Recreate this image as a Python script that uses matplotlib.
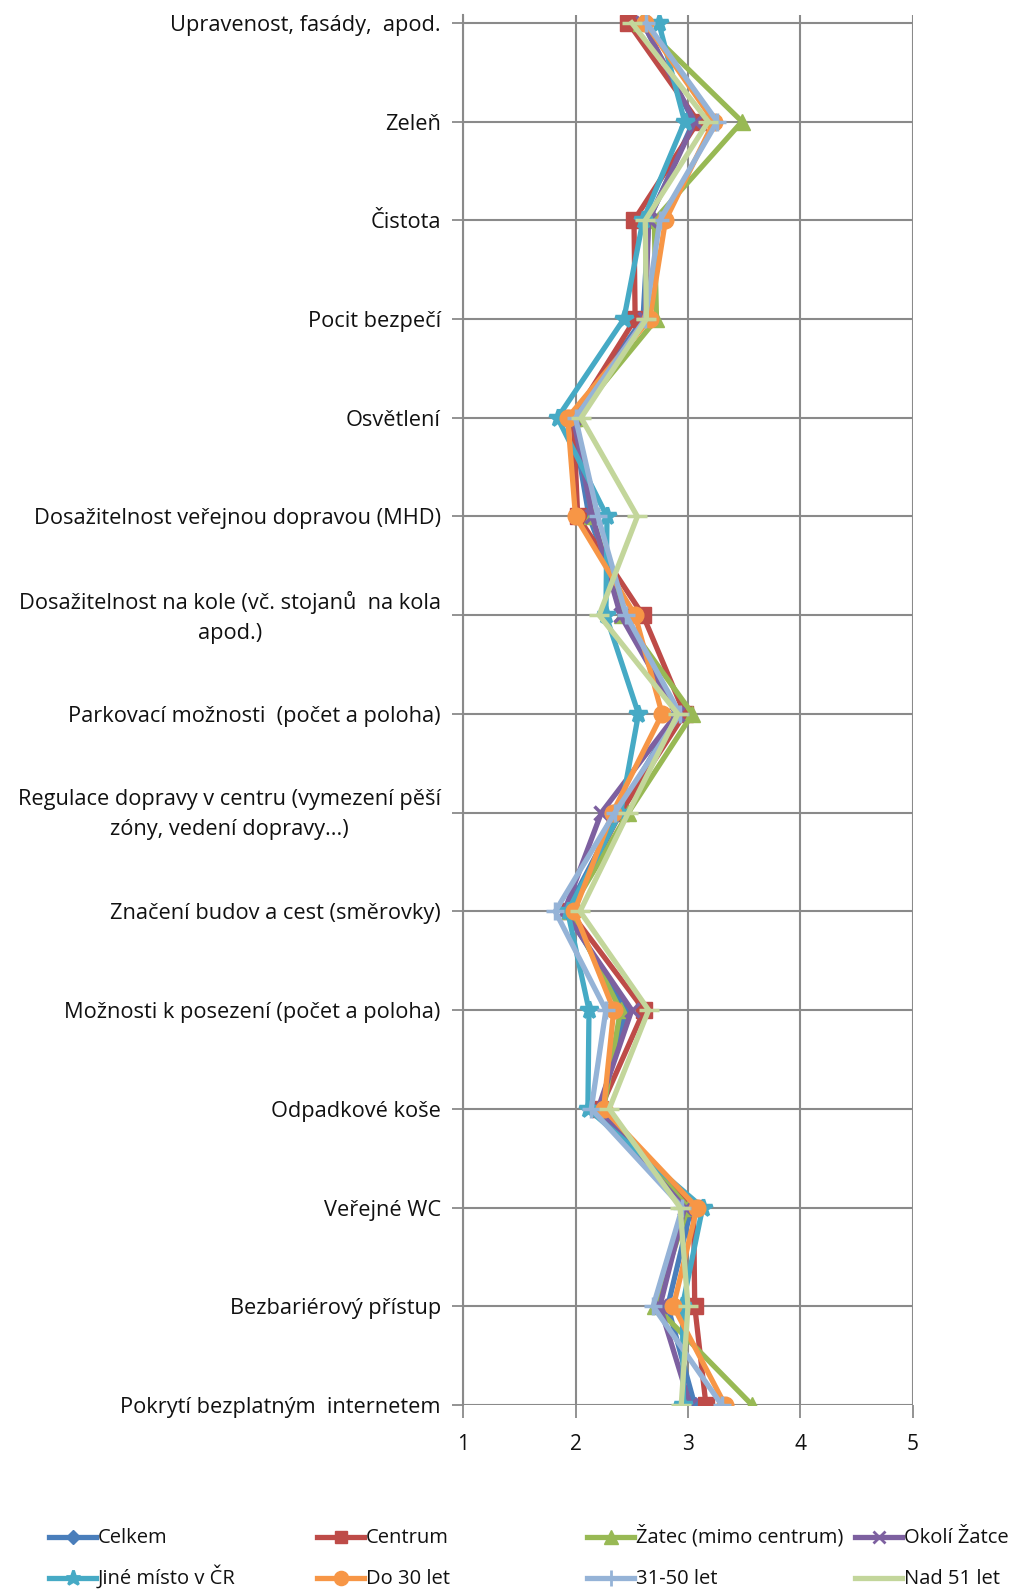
import matplotlib
matplotlib.use("Agg")
import matplotlib.pyplot as plt
import matplotlib.transforms as mtransforms
from matplotlib.lines import Line2D

plt.rcParams['font.family'] = ['Open Sans', 'DejaVu Sans']

categories = [
    "Upravenost, fasády,  apod.",
    "Zeleň",
    "Čistota",
    "Pocit bezpečí",
    "Osvětlení",
    "Dosažitelnost veřejnou dopravou (MHD)",
    "Dosažitelnost na kole (vč. stojanů  na kola\napod.)",
    "Parkovací možnosti  (počet a poloha)",
    "Regulace dopravy v centru (vymezení pěší\nzóny, vedení dopravy...)",
    "Značení budov a cest (směrovky)",
    "Možnosti k posezení (počet a poloha)",
    "Odpadkové koše",
    "Veřejné WC",
    "Bezbariérový přístup",
    "Pokrytí bezplatným  internetem",
]

celkem  = [2.60, 3.05, 2.65, 2.60, 1.97, 2.12, 2.45, 2.90, 2.38, 1.92, 2.45, 2.22, 3.03, 2.82, 3.06]
centrum = [2.47, 3.09, 2.52, 2.53, 1.98, 2.02, 2.60, 2.97, 2.40, 1.95, 2.61, 2.22, 3.05, 3.06, 3.16]
zatec   = [2.58, 3.48, 2.70, 2.72, 2.00, 2.15, 2.41, 3.04, 2.47, 1.95, 2.40, 2.25, 3.00, 2.71, 3.57]
okoli   = [2.60, 3.06, 2.65, 2.62, 1.98, 2.15, 2.40, 2.90, 2.23, 1.90, 2.50, 2.20, 2.97, 2.75, 3.02]
jine    = [2.74, 2.97, 2.60, 2.43, 1.84, 2.28, 2.27, 2.56, 2.40, 1.93, 2.12, 2.11, 3.13, 2.95, 2.96]
do30    = [2.62, 3.23, 2.80, 2.66, 1.93, 2.00, 2.53, 2.77, 2.33, 1.99, 2.34, 2.25, 3.08, 2.87, 3.33]
let3150 = [2.63, 3.26, 2.75, 2.62, 2.00, 2.20, 2.45, 2.93, 2.35, 1.82, 2.27, 2.14, 2.95, 2.69, 3.30]
nad51   = [2.50, 3.18, 2.62, 2.63, 2.05, 2.55, 2.21, 2.91, 2.47, 2.04, 2.65, 2.30, 2.93, 3.00, 2.94]

series_names = ["Celkem", "Centrum", "Žatec (mimo centrum)", "Okolí Žatce",
                "Jiné místo v ČR", "Do 30 let", "31-50 let", "Nad 51 let"]
series = [celkem, centrum, zatec, okoli, jine, do30, let3150, nad51]
colors = ["#4A7EBB", "#BE4B48", "#98B954", "#7D60A0",
          "#46AAC5", "#F79646", "#95B3D7", "#C3D69B"]
markers = ["D", "s", "^", "x", "*", "o", "+", "_"]
msizes = [8, 11, 12, 10, 13, 12, 13, 15]

W, H = 1011, 1591
fig = plt.figure(figsize=(W / 100, H / 100), dpi=100)
ax = fig.add_axes([0.458, 0.1169, 0.445, 0.8737])

ypos = list(range(len(categories)))
for vals, name, c, m, ms in zip(series, series_names, colors, markers, msizes):
    ax.plot(vals, ypos, color=c, lw=3.8, marker=m, ms=ms, mew=2.5 if m in "x*+_" else 1,
            mec=c, mfc=c, label=name, zorder=3)

ax.set_xlim(1, 5)
ax.set_ylim(14, -0.08)
ax.set_xticks([1, 2, 3, 4, 5])
ax.set_yticks(ypos)
ax.set_yticklabels(categories, fontsize=15.7, color="#111111",
                   multialignment="center", linespacing=1.55)
ax.tick_params(axis="x", labelsize=15, length=9, width=1.3, color="#8a8a8a", pad=12,
               labelcolor="#111111")
ax.tick_params(axis="y", length=8, width=1.3, color="#8a8a8a", pad=8)
ax.grid(True, color="#8a8a8a", lw=1.5, zorder=0)
for s in ["top", "right", "bottom"]:
    ax.spines[s].set_visible(False)
ax.spines["left"].set_color("#8a8a8a")
ax.spines["left"].set_linewidth(1.5)

# nudge the two-line labels up a little, like Excel centres them
shift = mtransforms.ScaledTranslation(0, 5 / 100, fig.dpi_scale_trans)
for lab in ax.get_yticklabels():
    if "\n" in lab.get_text():
        lab.set_transform(lab.get_transform() + shift)

# legend drawn by hand: 4 columns x 2 rows, filled row by row
col_x = [49, 317, 587, 855]
row_y = [1537, 1578]
for i, name in enumerate(series_names):
    x0 = col_x[i % 4]
    y0 = H - row_y[i // 4]
    fig.add_artist(Line2D([x0 / W, (x0 + 47) / W], [y0 / H, y0 / H], color=colors[i],
                          lw=3.8, transform=fig.transFigure))
    fig.add_artist(Line2D([(x0 + 23.5) / W], [y0 / H], color=colors[i], lw=0,
                          marker=markers[i], ms=msizes[i] * 0.85, mec=colors[i],
                          mfc=colors[i], mew=2 if markers[i] in "x*+_" else 1,
                          transform=fig.transFigure))
    fig.text((x0 + 49) / W, (y0 - 6) / H, name, fontsize=14.5, color="#111111",
             ha="left", va="baseline")

fig.savefig("out.png", dpi=100, facecolor="white")
